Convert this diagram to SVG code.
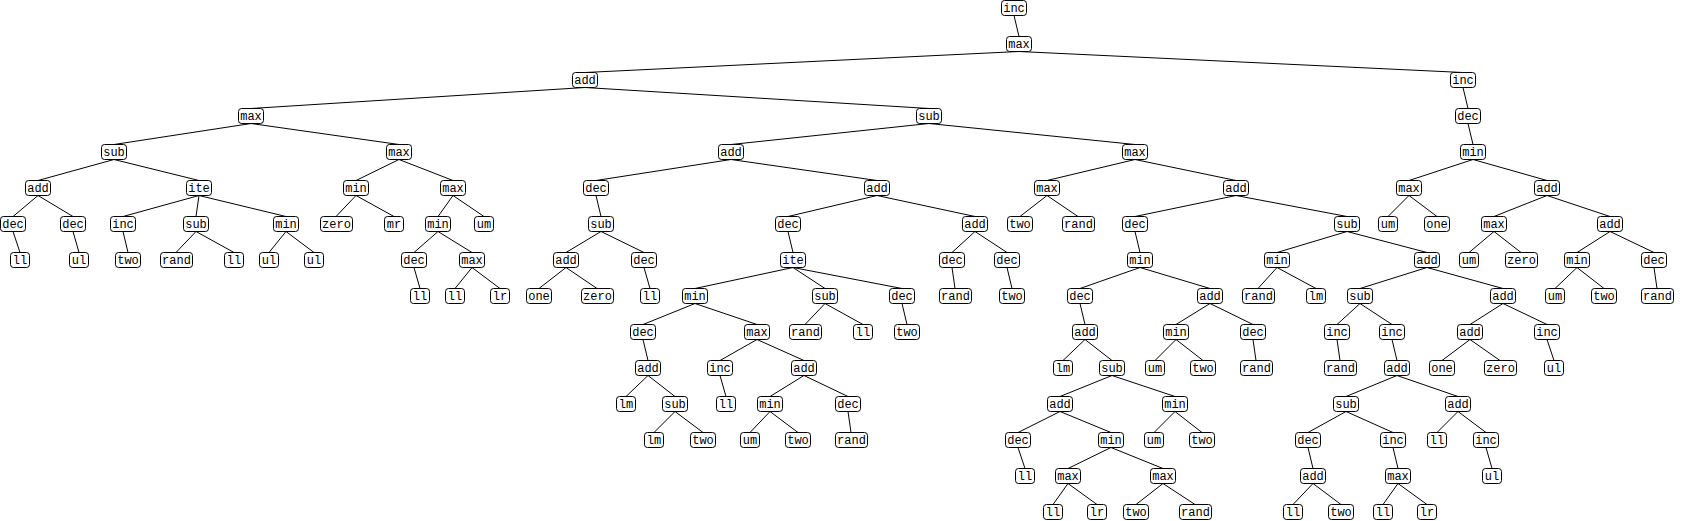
<svg xmlns="http://www.w3.org/2000/svg" width="1686" height="521" viewBox="0 0 1686 521">
<style>
rect{fill:#fff;stroke:#000;stroke-width:1}
text{font-family:"Liberation Mono","DejaVu Sans Mono",monospace;font-size:12px;text-anchor:middle;fill:#000}
#edges line{stroke:#000;stroke-width:1}
</style>
<rect x="0" y="0" width="1686" height="521" style="stroke:none"/>
<g id="edges">
<line x1="1014" y1="15.5" x2="1019" y2="36.5"/>
<line x1="1019" y1="51.5" x2="585" y2="72.5"/>
<line x1="1019" y1="51.5" x2="1463" y2="72.5"/>
<line x1="585" y1="87.5" x2="251" y2="108.5"/>
<line x1="585" y1="87.5" x2="929" y2="108.5"/>
<line x1="251" y1="123.5" x2="114" y2="144.5"/>
<line x1="251" y1="123.5" x2="399" y2="144.5"/>
<line x1="114" y1="159.5" x2="38" y2="180.5"/>
<line x1="114" y1="159.5" x2="199" y2="180.5"/>
<line x1="38" y1="195.5" x2="13" y2="216.5"/>
<line x1="38" y1="195.5" x2="73" y2="216.5"/>
<line x1="13" y1="231.5" x2="20" y2="252.5"/>
<line x1="73" y1="231.5" x2="79" y2="252.5"/>
<line x1="199" y1="195.5" x2="123" y2="216.5"/>
<line x1="199" y1="195.5" x2="196" y2="216.5"/>
<line x1="199" y1="195.5" x2="286" y2="216.5"/>
<line x1="123" y1="231.5" x2="128" y2="252.5"/>
<line x1="196" y1="231.5" x2="176" y2="252.5"/>
<line x1="196" y1="231.5" x2="234" y2="252.5"/>
<line x1="286" y1="231.5" x2="269" y2="252.5"/>
<line x1="286" y1="231.5" x2="314" y2="252.5"/>
<line x1="399" y1="159.5" x2="356" y2="180.5"/>
<line x1="399" y1="159.5" x2="453" y2="180.5"/>
<line x1="356" y1="195.5" x2="336" y2="216.5"/>
<line x1="356" y1="195.5" x2="394" y2="216.5"/>
<line x1="453" y1="195.5" x2="438" y2="216.5"/>
<line x1="453" y1="195.5" x2="484" y2="216.5"/>
<line x1="438" y1="231.5" x2="414" y2="252.5"/>
<line x1="438" y1="231.5" x2="472" y2="252.5"/>
<line x1="414" y1="267.5" x2="420" y2="288.5"/>
<line x1="472" y1="267.5" x2="455" y2="288.5"/>
<line x1="472" y1="267.5" x2="500" y2="288.5"/>
<line x1="929" y1="123.5" x2="731" y2="144.5"/>
<line x1="929" y1="123.5" x2="1135" y2="144.5"/>
<line x1="731" y1="159.5" x2="596" y2="180.5"/>
<line x1="731" y1="159.5" x2="877" y2="180.5"/>
<line x1="596" y1="195.5" x2="601" y2="216.5"/>
<line x1="601" y1="231.5" x2="566" y2="252.5"/>
<line x1="601" y1="231.5" x2="644" y2="252.5"/>
<line x1="566" y1="267.5" x2="539" y2="288.5"/>
<line x1="566" y1="267.5" x2="597" y2="288.5"/>
<line x1="644" y1="267.5" x2="650" y2="288.5"/>
<line x1="877" y1="195.5" x2="788" y2="216.5"/>
<line x1="877" y1="195.5" x2="975" y2="216.5"/>
<line x1="788" y1="231.5" x2="793" y2="252.5"/>
<line x1="793" y1="267.5" x2="695" y2="288.5"/>
<line x1="793" y1="267.5" x2="825" y2="288.5"/>
<line x1="793" y1="267.5" x2="902" y2="288.5"/>
<line x1="695" y1="303.5" x2="643" y2="324.5"/>
<line x1="695" y1="303.5" x2="757" y2="324.5"/>
<line x1="643" y1="339.5" x2="648" y2="360.5"/>
<line x1="648" y1="375.5" x2="626" y2="396.5"/>
<line x1="648" y1="375.5" x2="675" y2="396.5"/>
<line x1="675" y1="411.5" x2="654" y2="432.5"/>
<line x1="675" y1="411.5" x2="703" y2="432.5"/>
<line x1="757" y1="339.5" x2="720" y2="360.5"/>
<line x1="757" y1="339.5" x2="804" y2="360.5"/>
<line x1="720" y1="375.5" x2="726" y2="396.5"/>
<line x1="804" y1="375.5" x2="770" y2="396.5"/>
<line x1="804" y1="375.5" x2="848" y2="396.5"/>
<line x1="770" y1="411.5" x2="750" y2="432.5"/>
<line x1="770" y1="411.5" x2="798" y2="432.5"/>
<line x1="848" y1="411.5" x2="851" y2="432.5"/>
<line x1="825" y1="303.5" x2="805" y2="324.5"/>
<line x1="825" y1="303.5" x2="863" y2="324.5"/>
<line x1="902" y1="303.5" x2="907" y2="324.5"/>
<line x1="975" y1="231.5" x2="952" y2="252.5"/>
<line x1="975" y1="231.5" x2="1007" y2="252.5"/>
<line x1="952" y1="267.5" x2="955" y2="288.5"/>
<line x1="1007" y1="267.5" x2="1012" y2="288.5"/>
<line x1="1135" y1="159.5" x2="1047" y2="180.5"/>
<line x1="1135" y1="159.5" x2="1236" y2="180.5"/>
<line x1="1047" y1="195.5" x2="1020" y2="216.5"/>
<line x1="1047" y1="195.5" x2="1078" y2="216.5"/>
<line x1="1236" y1="195.5" x2="1135" y2="216.5"/>
<line x1="1236" y1="195.5" x2="1347" y2="216.5"/>
<line x1="1135" y1="231.5" x2="1140" y2="252.5"/>
<line x1="1140" y1="267.5" x2="1080" y2="288.5"/>
<line x1="1140" y1="267.5" x2="1210" y2="288.5"/>
<line x1="1080" y1="303.5" x2="1085" y2="324.5"/>
<line x1="1085" y1="339.5" x2="1063" y2="360.5"/>
<line x1="1085" y1="339.5" x2="1112" y2="360.5"/>
<line x1="1112" y1="375.5" x2="1060" y2="396.5"/>
<line x1="1112" y1="375.5" x2="1175" y2="396.5"/>
<line x1="1060" y1="411.5" x2="1018" y2="432.5"/>
<line x1="1060" y1="411.5" x2="1111" y2="432.5"/>
<line x1="1018" y1="447.5" x2="1025" y2="468.5"/>
<line x1="1111" y1="447.5" x2="1068" y2="468.5"/>
<line x1="1111" y1="447.5" x2="1163" y2="468.5"/>
<line x1="1068" y1="483.5" x2="1053" y2="504.5"/>
<line x1="1068" y1="483.5" x2="1097" y2="504.5"/>
<line x1="1163" y1="483.5" x2="1136" y2="504.5"/>
<line x1="1163" y1="483.5" x2="1195" y2="504.5"/>
<line x1="1175" y1="411.5" x2="1154" y2="432.5"/>
<line x1="1175" y1="411.5" x2="1202" y2="432.5"/>
<line x1="1210" y1="303.5" x2="1176" y2="324.5"/>
<line x1="1210" y1="303.5" x2="1253" y2="324.5"/>
<line x1="1176" y1="339.5" x2="1155" y2="360.5"/>
<line x1="1176" y1="339.5" x2="1203" y2="360.5"/>
<line x1="1253" y1="339.5" x2="1256" y2="360.5"/>
<line x1="1347" y1="231.5" x2="1277" y2="252.5"/>
<line x1="1347" y1="231.5" x2="1427" y2="252.5"/>
<line x1="1277" y1="267.5" x2="1258" y2="288.5"/>
<line x1="1277" y1="267.5" x2="1316" y2="288.5"/>
<line x1="1427" y1="267.5" x2="1360" y2="288.5"/>
<line x1="1427" y1="267.5" x2="1503" y2="288.5"/>
<line x1="1360" y1="303.5" x2="1337" y2="324.5"/>
<line x1="1360" y1="303.5" x2="1392" y2="324.5"/>
<line x1="1337" y1="339.5" x2="1340" y2="360.5"/>
<line x1="1392" y1="339.5" x2="1397" y2="360.5"/>
<line x1="1397" y1="375.5" x2="1346" y2="396.5"/>
<line x1="1397" y1="375.5" x2="1458" y2="396.5"/>
<line x1="1346" y1="411.5" x2="1308" y2="432.5"/>
<line x1="1346" y1="411.5" x2="1393" y2="432.5"/>
<line x1="1308" y1="447.5" x2="1313" y2="468.5"/>
<line x1="1313" y1="483.5" x2="1293" y2="504.5"/>
<line x1="1313" y1="483.5" x2="1341" y2="504.5"/>
<line x1="1393" y1="447.5" x2="1398" y2="468.5"/>
<line x1="1398" y1="483.5" x2="1383" y2="504.5"/>
<line x1="1398" y1="483.5" x2="1427" y2="504.5"/>
<line x1="1458" y1="411.5" x2="1437" y2="432.5"/>
<line x1="1458" y1="411.5" x2="1486" y2="432.5"/>
<line x1="1486" y1="447.5" x2="1492" y2="468.5"/>
<line x1="1503" y1="303.5" x2="1470" y2="324.5"/>
<line x1="1503" y1="303.5" x2="1547" y2="324.5"/>
<line x1="1470" y1="339.5" x2="1442" y2="360.5"/>
<line x1="1470" y1="339.5" x2="1500" y2="360.5"/>
<line x1="1547" y1="339.5" x2="1554" y2="360.5"/>
<line x1="1463" y1="87.5" x2="1468" y2="108.5"/>
<line x1="1468" y1="123.5" x2="1473" y2="144.5"/>
<line x1="1473" y1="159.5" x2="1409" y2="180.5"/>
<line x1="1473" y1="159.5" x2="1547" y2="180.5"/>
<line x1="1409" y1="195.5" x2="1388" y2="216.5"/>
<line x1="1409" y1="195.5" x2="1437" y2="216.5"/>
<line x1="1547" y1="195.5" x2="1494" y2="216.5"/>
<line x1="1547" y1="195.5" x2="1610" y2="216.5"/>
<line x1="1494" y1="231.5" x2="1469" y2="252.5"/>
<line x1="1494" y1="231.5" x2="1521" y2="252.5"/>
<line x1="1610" y1="231.5" x2="1577" y2="252.5"/>
<line x1="1610" y1="231.5" x2="1654" y2="252.5"/>
<line x1="1577" y1="267.5" x2="1555" y2="288.5"/>
<line x1="1577" y1="267.5" x2="1604" y2="288.5"/>
<line x1="1654" y1="267.5" x2="1657" y2="288.5"/>
</g>
<g id="n0"><rect x="1001.5" y="0.5" width="25" height="15" rx="3"/><text x="1014" y="12">inc</text></g>
<g id="n1"><rect x="1006.5" y="36.5" width="25" height="15" rx="3"/><text x="1019" y="48">max</text></g>
<g id="n2"><rect x="572.5" y="72.5" width="25" height="15" rx="3"/><text x="585" y="84">add</text></g>
<g id="n3"><rect x="238.5" y="108.5" width="25" height="15" rx="3"/><text x="251" y="120">max</text></g>
<g id="n4"><rect x="101.5" y="144.5" width="25" height="15" rx="3"/><text x="114" y="156">sub</text></g>
<g id="n5"><rect x="25.5" y="180.5" width="25" height="15" rx="3"/><text x="38" y="192">add</text></g>
<g id="n6"><rect x="0.5" y="216.5" width="25" height="15" rx="3"/><text x="13" y="228">dec</text></g>
<g id="n7"><rect x="10.5" y="252.5" width="19" height="15" rx="3"/><text x="20" y="264">ll</text></g>
<g id="n8"><rect x="60.5" y="216.5" width="25" height="15" rx="3"/><text x="73" y="228">dec</text></g>
<g id="n9"><rect x="69.5" y="252.5" width="19" height="15" rx="3"/><text x="79" y="264">ul</text></g>
<g id="n10"><rect x="186.5" y="180.5" width="25" height="15" rx="3"/><text x="199" y="192">ite</text></g>
<g id="n11"><rect x="110.5" y="216.5" width="25" height="15" rx="3"/><text x="123" y="228">inc</text></g>
<g id="n12"><rect x="115.5" y="252.5" width="25" height="15" rx="3"/><text x="128" y="264">two</text></g>
<g id="n13"><rect x="183.5" y="216.5" width="25" height="15" rx="3"/><text x="196" y="228">sub</text></g>
<g id="n14"><rect x="160.5" y="252.5" width="32" height="15" rx="3"/><text x="176.5" y="264">rand</text></g>
<g id="n15"><rect x="224.5" y="252.5" width="19" height="15" rx="3"/><text x="234" y="264">ll</text></g>
<g id="n16"><rect x="273.5" y="216.5" width="25" height="15" rx="3"/><text x="286" y="228">min</text></g>
<g id="n17"><rect x="259.5" y="252.5" width="19" height="15" rx="3"/><text x="269" y="264">ul</text></g>
<g id="n18"><rect x="304.5" y="252.5" width="19" height="15" rx="3"/><text x="314" y="264">ul</text></g>
<g id="n19"><rect x="386.5" y="144.5" width="25" height="15" rx="3"/><text x="399" y="156">max</text></g>
<g id="n20"><rect x="343.5" y="180.5" width="25" height="15" rx="3"/><text x="356" y="192">min</text></g>
<g id="n21"><rect x="320.5" y="216.5" width="32" height="15" rx="3"/><text x="336.5" y="228">zero</text></g>
<g id="n22"><rect x="384.5" y="216.5" width="19" height="15" rx="3"/><text x="394" y="228">mr</text></g>
<g id="n23"><rect x="440.5" y="180.5" width="25" height="15" rx="3"/><text x="453" y="192">max</text></g>
<g id="n24"><rect x="425.5" y="216.5" width="25" height="15" rx="3"/><text x="438" y="228">min</text></g>
<g id="n25"><rect x="401.5" y="252.5" width="25" height="15" rx="3"/><text x="414" y="264">dec</text></g>
<g id="n26"><rect x="410.5" y="288.5" width="19" height="15" rx="3"/><text x="420" y="300">ll</text></g>
<g id="n27"><rect x="459.5" y="252.5" width="25" height="15" rx="3"/><text x="472" y="264">max</text></g>
<g id="n28"><rect x="445.5" y="288.5" width="19" height="15" rx="3"/><text x="455" y="300">ll</text></g>
<g id="n29"><rect x="490.5" y="288.5" width="19" height="15" rx="3"/><text x="500" y="300">lr</text></g>
<g id="n30"><rect x="474.5" y="216.5" width="19" height="15" rx="3"/><text x="484" y="228">um</text></g>
<g id="n31"><rect x="916.5" y="108.5" width="25" height="15" rx="3"/><text x="929" y="120">sub</text></g>
<g id="n32"><rect x="718.5" y="144.5" width="25" height="15" rx="3"/><text x="731" y="156">add</text></g>
<g id="n33"><rect x="583.5" y="180.5" width="25" height="15" rx="3"/><text x="596" y="192">dec</text></g>
<g id="n34"><rect x="588.5" y="216.5" width="25" height="15" rx="3"/><text x="601" y="228">sub</text></g>
<g id="n35"><rect x="553.5" y="252.5" width="25" height="15" rx="3"/><text x="566" y="264">add</text></g>
<g id="n36"><rect x="526.5" y="288.5" width="25" height="15" rx="3"/><text x="539" y="300">one</text></g>
<g id="n37"><rect x="581.5" y="288.5" width="32" height="15" rx="3"/><text x="597.5" y="300">zero</text></g>
<g id="n38"><rect x="631.5" y="252.5" width="25" height="15" rx="3"/><text x="644" y="264">dec</text></g>
<g id="n39"><rect x="640.5" y="288.5" width="19" height="15" rx="3"/><text x="650" y="300">ll</text></g>
<g id="n40"><rect x="864.5" y="180.5" width="25" height="15" rx="3"/><text x="877" y="192">add</text></g>
<g id="n41"><rect x="775.5" y="216.5" width="25" height="15" rx="3"/><text x="788" y="228">dec</text></g>
<g id="n42"><rect x="780.5" y="252.5" width="25" height="15" rx="3"/><text x="793" y="264">ite</text></g>
<g id="n43"><rect x="682.5" y="288.5" width="25" height="15" rx="3"/><text x="695" y="300">min</text></g>
<g id="n44"><rect x="630.5" y="324.5" width="25" height="15" rx="3"/><text x="643" y="336">dec</text></g>
<g id="n45"><rect x="635.5" y="360.5" width="25" height="15" rx="3"/><text x="648" y="372">add</text></g>
<g id="n46"><rect x="616.5" y="396.5" width="19" height="15" rx="3"/><text x="626" y="408">lm</text></g>
<g id="n47"><rect x="662.5" y="396.5" width="25" height="15" rx="3"/><text x="675" y="408">sub</text></g>
<g id="n48"><rect x="644.5" y="432.5" width="19" height="15" rx="3"/><text x="654" y="444">lm</text></g>
<g id="n49"><rect x="690.5" y="432.5" width="25" height="15" rx="3"/><text x="703" y="444">two</text></g>
<g id="n50"><rect x="744.5" y="324.5" width="25" height="15" rx="3"/><text x="757" y="336">max</text></g>
<g id="n51"><rect x="707.5" y="360.5" width="25" height="15" rx="3"/><text x="720" y="372">inc</text></g>
<g id="n52"><rect x="716.5" y="396.5" width="19" height="15" rx="3"/><text x="726" y="408">ll</text></g>
<g id="n53"><rect x="791.5" y="360.5" width="25" height="15" rx="3"/><text x="804" y="372">add</text></g>
<g id="n54"><rect x="757.5" y="396.5" width="25" height="15" rx="3"/><text x="770" y="408">min</text></g>
<g id="n55"><rect x="740.5" y="432.5" width="19" height="15" rx="3"/><text x="750" y="444">um</text></g>
<g id="n56"><rect x="785.5" y="432.5" width="25" height="15" rx="3"/><text x="798" y="444">two</text></g>
<g id="n57"><rect x="835.5" y="396.5" width="25" height="15" rx="3"/><text x="848" y="408">dec</text></g>
<g id="n58"><rect x="835.5" y="432.5" width="32" height="15" rx="3"/><text x="851.5" y="444">rand</text></g>
<g id="n59"><rect x="812.5" y="288.5" width="25" height="15" rx="3"/><text x="825" y="300">sub</text></g>
<g id="n60"><rect x="789.5" y="324.5" width="32" height="15" rx="3"/><text x="805.5" y="336">rand</text></g>
<g id="n61"><rect x="853.5" y="324.5" width="19" height="15" rx="3"/><text x="863" y="336">ll</text></g>
<g id="n62"><rect x="889.5" y="288.5" width="25" height="15" rx="3"/><text x="902" y="300">dec</text></g>
<g id="n63"><rect x="894.5" y="324.5" width="25" height="15" rx="3"/><text x="907" y="336">two</text></g>
<g id="n64"><rect x="962.5" y="216.5" width="25" height="15" rx="3"/><text x="975" y="228">add</text></g>
<g id="n65"><rect x="939.5" y="252.5" width="25" height="15" rx="3"/><text x="952" y="264">dec</text></g>
<g id="n66"><rect x="939.5" y="288.5" width="32" height="15" rx="3"/><text x="955.5" y="300">rand</text></g>
<g id="n67"><rect x="994.5" y="252.5" width="25" height="15" rx="3"/><text x="1007" y="264">dec</text></g>
<g id="n68"><rect x="999.5" y="288.5" width="25" height="15" rx="3"/><text x="1012" y="300">two</text></g>
<g id="n69"><rect x="1122.5" y="144.5" width="25" height="15" rx="3"/><text x="1135" y="156">max</text></g>
<g id="n70"><rect x="1034.5" y="180.5" width="25" height="15" rx="3"/><text x="1047" y="192">max</text></g>
<g id="n71"><rect x="1007.5" y="216.5" width="25" height="15" rx="3"/><text x="1020" y="228">two</text></g>
<g id="n72"><rect x="1062.5" y="216.5" width="32" height="15" rx="3"/><text x="1078.5" y="228">rand</text></g>
<g id="n73"><rect x="1223.5" y="180.5" width="25" height="15" rx="3"/><text x="1236" y="192">add</text></g>
<g id="n74"><rect x="1122.5" y="216.5" width="25" height="15" rx="3"/><text x="1135" y="228">dec</text></g>
<g id="n75"><rect x="1127.5" y="252.5" width="25" height="15" rx="3"/><text x="1140" y="264">min</text></g>
<g id="n76"><rect x="1067.5" y="288.5" width="25" height="15" rx="3"/><text x="1080" y="300">dec</text></g>
<g id="n77"><rect x="1072.5" y="324.5" width="25" height="15" rx="3"/><text x="1085" y="336">add</text></g>
<g id="n78"><rect x="1053.5" y="360.5" width="19" height="15" rx="3"/><text x="1063" y="372">lm</text></g>
<g id="n79"><rect x="1099.5" y="360.5" width="25" height="15" rx="3"/><text x="1112" y="372">sub</text></g>
<g id="n80"><rect x="1047.5" y="396.5" width="25" height="15" rx="3"/><text x="1060" y="408">add</text></g>
<g id="n81"><rect x="1005.5" y="432.5" width="25" height="15" rx="3"/><text x="1018" y="444">dec</text></g>
<g id="n82"><rect x="1015.5" y="468.5" width="19" height="15" rx="3"/><text x="1025" y="480">ll</text></g>
<g id="n83"><rect x="1098.5" y="432.5" width="25" height="15" rx="3"/><text x="1111" y="444">min</text></g>
<g id="n84"><rect x="1055.5" y="468.5" width="25" height="15" rx="3"/><text x="1068" y="480">max</text></g>
<g id="n85"><rect x="1043.5" y="504.5" width="19" height="15" rx="3"/><text x="1053" y="516">ll</text></g>
<g id="n86"><rect x="1087.5" y="504.5" width="19" height="15" rx="3"/><text x="1097" y="516">lr</text></g>
<g id="n87"><rect x="1150.5" y="468.5" width="25" height="15" rx="3"/><text x="1163" y="480">max</text></g>
<g id="n88"><rect x="1123.5" y="504.5" width="25" height="15" rx="3"/><text x="1136" y="516">two</text></g>
<g id="n89"><rect x="1179.5" y="504.5" width="32" height="15" rx="3"/><text x="1195.5" y="516">rand</text></g>
<g id="n90"><rect x="1162.5" y="396.5" width="25" height="15" rx="3"/><text x="1175" y="408">min</text></g>
<g id="n91"><rect x="1144.5" y="432.5" width="19" height="15" rx="3"/><text x="1154" y="444">um</text></g>
<g id="n92"><rect x="1189.5" y="432.5" width="25" height="15" rx="3"/><text x="1202" y="444">two</text></g>
<g id="n93"><rect x="1197.5" y="288.5" width="25" height="15" rx="3"/><text x="1210" y="300">add</text></g>
<g id="n94"><rect x="1163.5" y="324.5" width="25" height="15" rx="3"/><text x="1176" y="336">min</text></g>
<g id="n95"><rect x="1145.5" y="360.5" width="19" height="15" rx="3"/><text x="1155" y="372">um</text></g>
<g id="n96"><rect x="1190.5" y="360.5" width="25" height="15" rx="3"/><text x="1203" y="372">two</text></g>
<g id="n97"><rect x="1240.5" y="324.5" width="25" height="15" rx="3"/><text x="1253" y="336">dec</text></g>
<g id="n98"><rect x="1240.5" y="360.5" width="32" height="15" rx="3"/><text x="1256.5" y="372">rand</text></g>
<g id="n99"><rect x="1334.5" y="216.5" width="25" height="15" rx="3"/><text x="1347" y="228">sub</text></g>
<g id="n100"><rect x="1264.5" y="252.5" width="25" height="15" rx="3"/><text x="1277" y="264">min</text></g>
<g id="n101"><rect x="1242.5" y="288.5" width="32" height="15" rx="3"/><text x="1258.5" y="300">rand</text></g>
<g id="n102"><rect x="1306.5" y="288.5" width="19" height="15" rx="3"/><text x="1316" y="300">lm</text></g>
<g id="n103"><rect x="1414.5" y="252.5" width="25" height="15" rx="3"/><text x="1427" y="264">add</text></g>
<g id="n104"><rect x="1347.5" y="288.5" width="25" height="15" rx="3"/><text x="1360" y="300">sub</text></g>
<g id="n105"><rect x="1324.5" y="324.5" width="25" height="15" rx="3"/><text x="1337" y="336">inc</text></g>
<g id="n106"><rect x="1324.5" y="360.5" width="32" height="15" rx="3"/><text x="1340.5" y="372">rand</text></g>
<g id="n107"><rect x="1379.5" y="324.5" width="25" height="15" rx="3"/><text x="1392" y="336">inc</text></g>
<g id="n108"><rect x="1384.5" y="360.5" width="25" height="15" rx="3"/><text x="1397" y="372">add</text></g>
<g id="n109"><rect x="1333.5" y="396.5" width="25" height="15" rx="3"/><text x="1346" y="408">sub</text></g>
<g id="n110"><rect x="1295.5" y="432.5" width="25" height="15" rx="3"/><text x="1308" y="444">dec</text></g>
<g id="n111"><rect x="1300.5" y="468.5" width="25" height="15" rx="3"/><text x="1313" y="480">add</text></g>
<g id="n112"><rect x="1283.5" y="504.5" width="19" height="15" rx="3"/><text x="1293" y="516">ll</text></g>
<g id="n113"><rect x="1328.5" y="504.5" width="25" height="15" rx="3"/><text x="1341" y="516">two</text></g>
<g id="n114"><rect x="1380.5" y="432.5" width="25" height="15" rx="3"/><text x="1393" y="444">inc</text></g>
<g id="n115"><rect x="1385.5" y="468.5" width="25" height="15" rx="3"/><text x="1398" y="480">max</text></g>
<g id="n116"><rect x="1373.5" y="504.5" width="19" height="15" rx="3"/><text x="1383" y="516">ll</text></g>
<g id="n117"><rect x="1417.5" y="504.5" width="19" height="15" rx="3"/><text x="1427" y="516">lr</text></g>
<g id="n118"><rect x="1445.5" y="396.5" width="25" height="15" rx="3"/><text x="1458" y="408">add</text></g>
<g id="n119"><rect x="1427.5" y="432.5" width="19" height="15" rx="3"/><text x="1437" y="444">ll</text></g>
<g id="n120"><rect x="1473.5" y="432.5" width="25" height="15" rx="3"/><text x="1486" y="444">inc</text></g>
<g id="n121"><rect x="1482.5" y="468.5" width="19" height="15" rx="3"/><text x="1492" y="480">ul</text></g>
<g id="n122"><rect x="1490.5" y="288.5" width="25" height="15" rx="3"/><text x="1503" y="300">add</text></g>
<g id="n123"><rect x="1457.5" y="324.5" width="25" height="15" rx="3"/><text x="1470" y="336">add</text></g>
<g id="n124"><rect x="1429.5" y="360.5" width="25" height="15" rx="3"/><text x="1442" y="372">one</text></g>
<g id="n125"><rect x="1484.5" y="360.5" width="32" height="15" rx="3"/><text x="1500.5" y="372">zero</text></g>
<g id="n126"><rect x="1534.5" y="324.5" width="25" height="15" rx="3"/><text x="1547" y="336">inc</text></g>
<g id="n127"><rect x="1544.5" y="360.5" width="19" height="15" rx="3"/><text x="1554" y="372">ul</text></g>
<g id="n128"><rect x="1450.5" y="72.5" width="25" height="15" rx="3"/><text x="1463" y="84">inc</text></g>
<g id="n129"><rect x="1455.5" y="108.5" width="25" height="15" rx="3"/><text x="1468" y="120">dec</text></g>
<g id="n130"><rect x="1460.5" y="144.5" width="25" height="15" rx="3"/><text x="1473" y="156">min</text></g>
<g id="n131"><rect x="1396.5" y="180.5" width="25" height="15" rx="3"/><text x="1409" y="192">max</text></g>
<g id="n132"><rect x="1378.5" y="216.5" width="19" height="15" rx="3"/><text x="1388" y="228">um</text></g>
<g id="n133"><rect x="1424.5" y="216.5" width="25" height="15" rx="3"/><text x="1437" y="228">one</text></g>
<g id="n134"><rect x="1534.5" y="180.5" width="25" height="15" rx="3"/><text x="1547" y="192">add</text></g>
<g id="n135"><rect x="1481.5" y="216.5" width="25" height="15" rx="3"/><text x="1494" y="228">max</text></g>
<g id="n136"><rect x="1459.5" y="252.5" width="19" height="15" rx="3"/><text x="1469" y="264">um</text></g>
<g id="n137"><rect x="1505.5" y="252.5" width="32" height="15" rx="3"/><text x="1521.5" y="264">zero</text></g>
<g id="n138"><rect x="1597.5" y="216.5" width="25" height="15" rx="3"/><text x="1610" y="228">add</text></g>
<g id="n139"><rect x="1564.5" y="252.5" width="25" height="15" rx="3"/><text x="1577" y="264">min</text></g>
<g id="n140"><rect x="1545.5" y="288.5" width="19" height="15" rx="3"/><text x="1555" y="300">um</text></g>
<g id="n141"><rect x="1591.5" y="288.5" width="25" height="15" rx="3"/><text x="1604" y="300">two</text></g>
<g id="n142"><rect x="1641.5" y="252.5" width="25" height="15" rx="3"/><text x="1654" y="264">dec</text></g>
<g id="n143"><rect x="1641.5" y="288.5" width="32" height="15" rx="3"/><text x="1657.5" y="300">rand</text></g>
</svg>
